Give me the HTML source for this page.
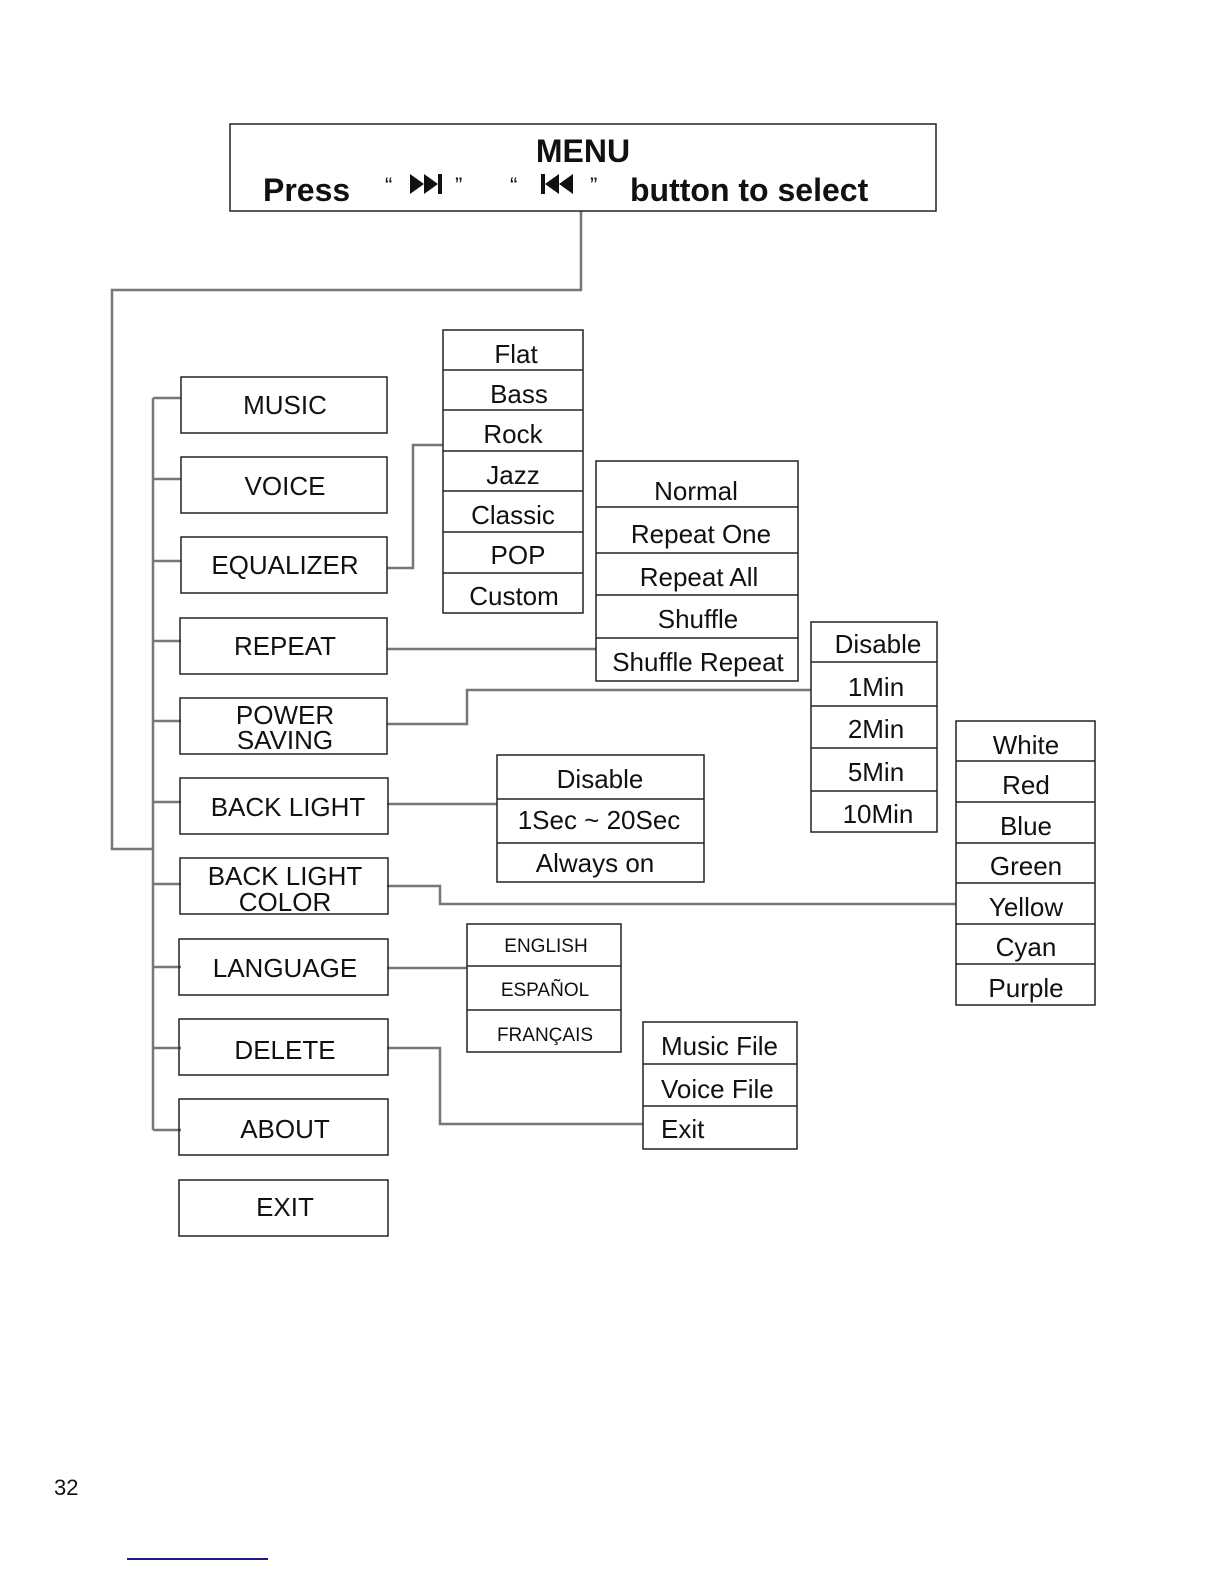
<!DOCTYPE html>
<html><head><meta charset="utf-8"><style>
html,body{margin:0;padding:0;background:#fff;}
svg text{font-family:"Liberation Sans",Arial,sans-serif;fill:#111;}
</style></head><body>
<svg width="1224" height="1584" viewBox="0 0 1224 1584" xmlns="http://www.w3.org/2000/svg">
<g fill="none" stroke="#777" stroke-width="2.5">
<polyline points="581,211 581,290 112,290 112,849 153,849"/>
<line x1="153" y1="398" x2="153" y2="1130"/>
<line x1="153" y1="398" x2="181" y2="398"/>
<line x1="153" y1="479" x2="181" y2="479"/>
<line x1="153" y1="561" x2="181" y2="561"/>
<line x1="153" y1="641" x2="181" y2="641"/>
<line x1="153" y1="721" x2="181" y2="721"/>
<line x1="153" y1="802" x2="181" y2="802"/>
<line x1="153" y1="884" x2="181" y2="884"/>
<line x1="153" y1="967" x2="181" y2="967"/>
<line x1="153" y1="1048" x2="181" y2="1048"/>
<line x1="153" y1="1130" x2="181" y2="1130"/>
<polyline points="387,568 413,568 413,445 443,445"/>
<line x1="387" y1="649" x2="596" y2="649"/>
<polyline points="387,724 467,724 467,690 811,690"/>
<line x1="387" y1="804" x2="497" y2="804"/>
<polyline points="387,886 440,886 440,904 956,904"/>
<line x1="387" y1="968" x2="467" y2="968"/>
<polyline points="387,1048 440,1048 440,1124 643,1124"/>
</g>
<g fill="none" stroke="#222" stroke-width="1.5">
<rect x="230" y="124" width="706" height="87"/>
<rect x="181" y="377" width="206" height="56"/>
<rect x="181" y="457" width="206" height="56"/>
<rect x="181" y="537" width="206" height="56"/>
<rect x="180" y="618" width="207" height="56"/>
<rect x="180" y="698" width="207" height="56"/>
<rect x="180" y="778" width="208" height="56"/>
<rect x="180" y="858" width="208" height="56"/>
<rect x="179" y="939" width="209" height="56"/>
<rect x="179" y="1019" width="209" height="56"/>
<rect x="179" y="1099" width="209" height="56"/>
<rect x="179" y="1180" width="209" height="56"/>
<rect x="443" y="330" width="140" height="283"/>
<path d="M443 370H583M443 410H583M443 451H583M443 491H583M443 532H583M443 573H583"/>
<rect x="596" y="461" width="202" height="220"/>
<path d="M596 507H798M596 553H798M596 595H798M596 638H798"/>
<rect x="811" y="622" width="126" height="210"/>
<path d="M811 662H937M811 706H937M811 748H937M811 791H937"/>
<rect x="497" y="755" width="207" height="127"/>
<path d="M497 799H704M497 843H704"/>
<rect x="956" y="721" width="139" height="284"/>
<path d="M956 761H1095M956 802H1095M956 843H1095M956 883H1095M956 924H1095M956 964H1095"/>
<rect x="467" y="924" width="154" height="128"/>
<path d="M467 966H621M467 1010H621"/>
<rect x="643" y="1022" width="154" height="127"/>
<path d="M643 1064H797M643 1106H797"/>
</g>
<g font-weight="bold" font-size="32">
<text x="583" y="162" text-anchor="middle">MENU</text>
<text x="263" y="201">Press</text>
<text x="630" y="201">button to select</text>
</g>
<g font-size="22" font-family="Liberation Serif">
<text x="385" y="193">“</text><text x="455" y="193">”</text>
<text x="510" y="193">“</text><text x="590" y="193">”</text>
</g>
<g fill="#111">
<polygon points="410,174 410,194 424,184"/><polygon points="424,174 424,194 438,184"/><rect x="438" y="174" width="4" height="20"/>
<rect x="541" y="174" width="4" height="20"/><polygon points="559,174 559,194 545,184"/><polygon points="573,174 573,194 559,184"/>
</g>
<g font-size="26" text-anchor="middle">
<text x="285" y="414">MUSIC</text>
<text x="285" y="495">VOICE</text>
<text x="285" y="574">EQUALIZER</text>
<text x="285" y="655">REPEAT</text>
<text x="285" y="724">POWER</text>
<text x="285" y="749">SAVING</text>
<text x="288" y="816">BACK LIGHT</text>
<text x="285" y="885">BACK LIGHT</text>
<text x="285" y="911">COLOR</text>
<text x="285" y="977">LANGUAGE</text>
<text x="285" y="1059">DELETE</text>
<text x="285" y="1138">ABOUT</text>
<text x="285" y="1216">EXIT</text>
<text x="516" y="363">Flat</text>
<text x="519" y="403">Bass</text>
<text x="513" y="443">Rock</text>
<text x="513" y="484">Jazz</text>
<text x="513" y="524">Classic</text>
<text x="518" y="564">POP</text>
<text x="514" y="605">Custom</text>
<text x="696" y="500">Normal</text>
<text x="701" y="543">Repeat One</text>
<text x="699" y="586">Repeat All</text>
<text x="698" y="628">Shuffle</text>
<text x="698" y="671">Shuffle Repeat</text>
<text x="878" y="653">Disable</text>
<text x="876" y="696">1Min</text>
<text x="876" y="738">2Min</text>
<text x="876" y="781">5Min</text>
<text x="878" y="823">10Min</text>
<text x="600" y="788">Disable</text>
<text x="599" y="829">1Sec ~ 20Sec</text>
<text x="595" y="872">Always on</text>
<text x="1026" y="754">White</text>
<text x="1026" y="794">Red</text>
<text x="1026" y="835">Blue</text>
<text x="1026" y="875">Green</text>
<text x="1026" y="916">Yellow</text>
<text x="1026" y="956">Cyan</text>
<text x="1026" y="997">Purple</text>
</g>
<g font-size="26">
<text x="661" y="1055">Music File</text>
<text x="661" y="1098">Voice File</text>
<text x="661" y="1138">Exit</text>
</g>
<g font-size="19" text-anchor="middle">
<text x="546" y="952">ENGLISH</text>
<text x="545" y="996">ESPAÑOL</text>
<text x="545" y="1041">FRANÇAIS</text>
</g>
<text x="54" y="1495" font-size="22">32</text>
<line x1="127" y1="1559" x2="268" y2="1559" stroke="#1a1a8a" stroke-width="2"/>
</svg>
</body></html>
